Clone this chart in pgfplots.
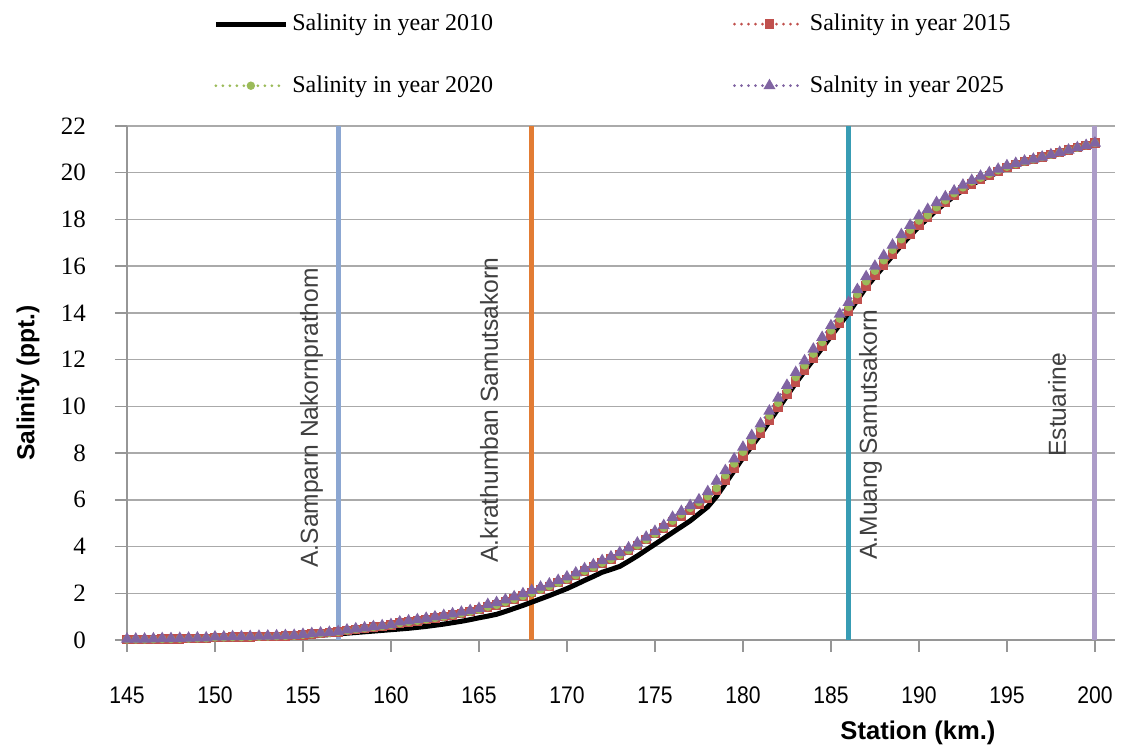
\documentclass[border=0pt]{standalone}
\usepackage{fontspec}
\setmainfont{Liberation Serif}
\newfontfamily\arial{Liberation Sans}
\newfontfamily\arialn[FakeStretch=0.88]{Liberation Sans}
\usepackage{pgfplots}
\usepackage{pgfplotstable}
\pgfplotsset{compat=1.18}
\definecolor{gridgray}{RGB}{170,170,170}
\definecolor{axgray}{RGB}{150,150,150}
\definecolor{s15}{RGB}{192,80,77}
\definecolor{s20}{RGB}{155,187,89}
\definecolor{s25}{RGB}{128,100,162}
\definecolor{vblue}{RGB}{140,167,210}
\definecolor{vorange}{RGB}{226,124,52}
\definecolor{vteal}{RGB}{56,156,180}
\definecolor{vpurple}{RGB}{172,156,200}

\pgfplotstableread{
x a b c d
145.0 0.00 0.02 0.02 0.04
145.5 0.00 0.02 0.02 0.04
146.0 0.00 0.02 0.02 0.04
146.5 0.01 0.03 0.03 0.05
147.0 0.02 0.04 0.04 0.06
147.5 0.02 0.04 0.04 0.06
148.0 0.03 0.05 0.05 0.07
148.5 0.04 0.06 0.06 0.08
149.0 0.05 0.07 0.07 0.09
149.5 0.05 0.07 0.07 0.09
150.0 0.06 0.11 0.11 0.13
150.5 0.06 0.11 0.11 0.13
151.0 0.07 0.12 0.12 0.14
151.5 0.07 0.12 0.12 0.14
152.0 0.08 0.13 0.13 0.15
152.5 0.09 0.14 0.14 0.16
153.0 0.10 0.15 0.15 0.17
153.5 0.11 0.16 0.16 0.18
154.0 0.12 0.17 0.17 0.19
154.5 0.13 0.18 0.18 0.20
155.0 0.14 0.22 0.22 0.24
155.5 0.17 0.25 0.25 0.27
156.0 0.20 0.28 0.28 0.30
156.5 0.23 0.31 0.31 0.33
157.0 0.26 0.34 0.34 0.36
157.5 0.29 0.41 0.41 0.43
158.0 0.32 0.46 0.46 0.48
158.5 0.35 0.50 0.50 0.52
159.0 0.38 0.55 0.55 0.57
159.5 0.41 0.59 0.59 0.61
160.0 0.44 0.64 0.64 0.66
160.5 0.47 0.72 0.72 0.77
161.0 0.50 0.77 0.77 0.82
161.5 0.54 0.82 0.82 0.87
162.0 0.58 0.88 0.88 0.93
162.5 0.63 0.94 0.94 0.99
163.0 0.68 1.00 1.00 1.05
163.5 0.74 1.07 1.07 1.12
164.0 0.80 1.14 1.14 1.19
164.5 0.87 1.21 1.21 1.26
165.0 0.95 1.30 1.30 1.35
165.5 1.02 1.42 1.42 1.52
166.0 1.10 1.50 1.50 1.60
166.5 1.22 1.62 1.62 1.72
167.0 1.35 1.75 1.75 1.85
167.5 1.48 1.88 1.88 1.98
168.0 1.62 2.02 2.02 2.12
168.5 1.76 2.16 2.16 2.26
169.0 1.90 2.30 2.30 2.40
169.5 2.05 2.45 2.45 2.55
170.0 2.20 2.60 2.60 2.70
170.5 2.37 2.77 2.77 2.87
171.0 2.55 2.95 2.95 3.05
171.5 2.72 3.12 3.12 3.22
172.0 2.90 3.30 3.30 3.40
172.5 3.02 3.46 3.46 3.56
173.0 3.15 3.64 3.64 3.74
173.5 3.37 3.84 3.84 3.94
174.0 3.60 4.05 4.05 4.15
174.5 3.85 4.30 4.30 4.40
175.0 4.10 4.55 4.55 4.65
175.5 4.35 4.80 4.80 4.90
176.0 4.60 5.05 5.10 5.25
176.5 4.85 5.30 5.38 5.50
177.0 5.10 5.55 5.65 5.75
177.5 5.40 5.80 5.90 6.00
178.0 5.70 6.05 6.15 6.35
178.5 6.15 6.40 6.50 6.80
179.0 6.70 6.85 7.05 7.25
179.5 7.25 7.35 7.55 7.75
180.0 7.80 7.85 8.05 8.25
180.5 8.30 8.35 8.55 8.75
181.0 8.80 8.85 9.05 9.25
181.5 9.35 9.40 9.60 9.80
182.0 9.90 9.95 10.15 10.35
182.5 10.45 10.50 10.70 10.90
183.0 11.00 11.05 11.25 11.45
183.5 11.50 11.55 11.75 11.95
184.0 12.00 12.05 12.25 12.45
184.5 12.50 12.55 12.75 12.95
185.0 13.00 13.05 13.25 13.45
185.5 13.50 13.55 13.75 13.95
186.0 14.00 14.05 14.25 14.45
186.5 14.55 14.60 14.80 15.00
187.0 15.10 15.15 15.35 15.55
187.5 15.55 15.60 15.80 16.00
188.0 16.00 16.05 16.25 16.45
188.5 16.45 16.50 16.70 16.90
189.0 16.90 16.95 17.15 17.35
189.5 17.30 17.35 17.55 17.75
190.0 17.70 17.75 17.95 18.15
190.5 18.05 18.08 18.18 18.43
191.0 18.40 18.42 18.52 18.72
191.5 18.70 18.72 18.82 18.97
192.0 19.00 19.02 19.12 19.22
192.5 19.25 19.27 19.37 19.47
193.0 19.50 19.52 19.62 19.67
193.5 19.68 19.70 19.78 19.85
194.0 19.85 19.87 19.95 20.00
194.5 20.03 20.05 20.10 20.15
195.0 20.20 20.22 20.25 20.30
195.5 20.33 20.35 20.37 20.40
196.0 20.45 20.47 20.48 20.50
196.5 20.55 20.57 20.57 20.58
197.0 20.65 20.67 20.67 20.67
197.5 20.75 20.77 20.77 20.77
198.0 20.85 20.87 20.87 20.87
198.5 20.95 20.97 20.97 20.97
199.0 21.05 21.07 21.07 21.07
199.5 21.15 21.17 21.17 21.17
200.0 21.25 21.27 21.27 21.27
}\data

\begin{document}
\begin{tikzpicture}
\useasboundingbox (-63.5pt,-53.5pt) rectangle (497pt,320pt);
\begin{axis}[
  anchor=south west, at={(0pt,0pt)},
  scale only axis, width=494pt, height=257pt,
  xmin=145, xmax=201.14, ymin=0, ymax=22,
  axis x line=bottom, axis y line=left,
  axis line style={-, axgray, line width=0.75pt},
  xtick={145,150,...,200}, ytick={0,2,...,22},
  tick align=outside, major tick length=6pt,
  tick style={axgray, line width=0.75pt},
  ymajorgrids, grid style={gridgray, line width=0.75pt},
  /pgf/number format/assume math mode=true,
  xticklabel style={font=\arialn\fontsize{12}{12}\selectfont, yshift=-14pt},
  yticklabel style={font=\fontsize{12.5}{12.5}\selectfont, xshift=-11pt},
  xlabel={Station (km.)},
  xlabel style={font=\arial\bfseries\fontsize{12.8}{12.8}\selectfont, at={(axis description cs:0.8006,-0.181)}, anchor=center},
  ylabel={Salinity (ppt.)},
  ylabel style={font=\arial\bfseries\fontsize{12.3}{12.3}\selectfont, at={(axis description cs:-0.1002,0.5)}, anchor=center},
  clip=false,
  legend columns=2,
  legend cell align=left,
  legend style={draw=none, fill=none, inner sep=0pt,
    at={(axis description cs:0.087,1.226)}, anchor=north west,
    font=\fontsize{12}{12}\selectfont,
    row sep=17pt,
    /tikz/every even column/.append style={column sep=118pt}},
  legend image code/.code={\draw[mark repeat=2,mark phase=2] plot coordinates {(0pt,0pt) (17.5pt,0pt) (35pt,0pt)};},
]
\addplot[forget plot, vblue, line width=2.5pt] coordinates {(157,0) (157,22)};
\addplot[forget plot, vorange, line width=2.5pt] coordinates {(168,0) (168,22)};
\addplot[forget plot, vteal, line width=2.5pt] coordinates {(186,0) (186,22)};
\addplot[forget plot, vpurple, line width=2.5pt] coordinates {(200,0) (200,22)};

\addplot[black, line width=2.5pt, no markers] table[x=x,y=a]{\data};
\addlegendentry{Salinity in year 2010}
\addplot[s15, line width=1.5pt, line cap=round, dash pattern=on 0pt off 3.5pt, mark=square*, mark size=1.6pt, mark options={solid}] table[x=x,y=b]{\data};
\addlegendentry{Salinity in year 2015}
\addplot[s20, line width=1.5pt, line cap=round, dash pattern=on 0pt off 3.5pt, mark=*, mark size=1.3pt, mark options={solid}] table[x=x,y=c]{\data};
\addlegendentry{Salinity in year 2020}
\addplot[s25, line width=1.5pt, line cap=round, dash pattern=on 0pt off 3.5pt, mark=triangle*, mark size=2pt, mark options={solid}] table[x=x,y=d]{\data};
\addlegendentry{Salnity in year 2025}

\node[rotate=90, anchor=base west, inner sep=0pt, font=\arial\fontsize{12.3}{12.3}\selectfont, text=black!75] at (axis cs:155.85,3.08) {A.Samparn Nakornprathom};
\node[rotate=90, anchor=base west, inner sep=0pt, font=\arial\fontsize{12.3}{12.3}\selectfont, text=black!75] at (axis cs:166.08,3.30) {A.krathumban Samutsakorn};
\node[rotate=90, anchor=base west, inner sep=0pt, font=\arial\fontsize{12.3}{12.3}\selectfont, text=black!75] at (axis cs:187.61,3.42) {A.Muang Samutsakorn};
\node[rotate=90, anchor=base west, inner sep=0pt, font=\arial\fontsize{12.3}{12.3}\selectfont, text=black!75] at (axis cs:198.35,7.83) {Estuarine};
\end{axis}
\end{tikzpicture}
\end{document}
